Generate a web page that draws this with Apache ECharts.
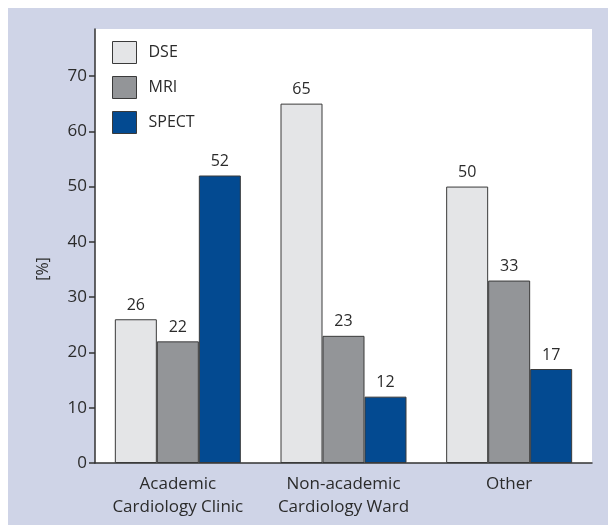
<!DOCTYPE html>
<html>
<head>
<meta charset="utf-8">
<script src="https://cdn.jsdelivr.net/npm/echarts@6/dist/echarts.min.js"></script>
<style>
  html, body { margin: 0; padding: 0; background: #ffffff; }
  #wrap { position: relative; width: 608px; height: 525px; }
  #panel { position: absolute; left: 8px; top: 8px; right: 0; bottom: 0; background: #cfd4e7; }
  #chart { position: absolute; left: 0; top: 0; width: 608px; height: 525px; }
</style>
</head>
<body>
<div id="wrap">
  <div id="panel"></div>
  <div id="chart"></div>
</div>
<script>
// Preferred imaging modality by setting, in percent
const categories = ['Academic\nCardiology Clinic', 'Non-academic\nCardiology Ward', 'Other'];
const dseValues = [26, 65, 50];
const mriValues = [22, 23, 33];
const spectValues = [52, 12, 17];
const yTicks = [0, 10, 20, 30, 40, 50, 60, 70];

const FONT = '"Open Sans", "Noto Sans", sans-serif';
const TEXT = '#2b2b2b';

function barSeries(name, data, color) {
  return {
    name: name,
    type: 'bar',
    data: data,
    barWidth: 42,
    barGap: '0%',
    itemStyle: { color: color, borderColor: '#3a3a3a', borderWidth: 1 },
    label: {
      show: true,
      position: 'top',
      distance: 6,
      color: TEXT,
      fontFamily: FONT,
      fontSize: 16
    }
  };
}

const chart = echarts.init(document.getElementById('chart'), null, { renderer: 'canvas' });
chart.setOption({
  backgroundColor: 'transparent',
  animation: false,
  textStyle: { fontFamily: FONT },
  grid: {
    left: 95, right: 16, top: 29, bottom: 62,
    show: true, backgroundColor: '#ffffff', borderWidth: 0
  },
  legend: {
    orient: 'vertical',
    left: 107,
    top: 36,
    itemWidth: 24,
    itemHeight: 22,
    itemGap: 12,
    icon: 'rect',
    textStyle: { color: TEXT, fontFamily: FONT, fontSize: 16, padding: [0, 0, 0, 7] },
    itemStyle: { borderColor: '#3a3a3a', borderWidth: 1 },
    data: ['DSE', 'MRI', 'SPECT']
  },
  xAxis: {
    type: 'category',
    data: categories,
    axisLine: { show: true, lineStyle: { color: '#333', width: 1.5 } },
    axisTick: { show: false },
    axisLabel: {
      color: TEXT, fontFamily: FONT, fontSize: 17,
      lineHeight: 23, margin: 10, interval: 0
    }
  },
  yAxis: {
    type: 'value',
    min: 0,
    max: 78.5,
    interval: 10,
    splitLine: { show: false },
    axisLine: { show: true, lineStyle: { color: '#333', width: 1.5 } },
    axisTick: { show: true, length: 6, lineStyle: { color: '#333', width: 1.5 }, customValues: yTicks },
    axisLabel: { color: TEXT, fontFamily: FONT, fontSize: 17, margin: 8, customValues: yTicks }
  },
  graphic: [{
    type: 'text',
    x: 43,
    y: 269,
    rotation: Math.PI / 2,
    style: {
      text: '[%]',
      fill: TEXT,
      font: '16px ' + FONT,
      textAlign: 'center',
      textVerticalAlign: 'middle'
    }
  }],
  series: [
    barSeries('DSE', dseValues, '#e4e5e7'),
    barSeries('MRI', mriValues, '#939598'),
    barSeries('SPECT', spectValues, '#034a91')
  ]
});
</script>
</body>
</html>
